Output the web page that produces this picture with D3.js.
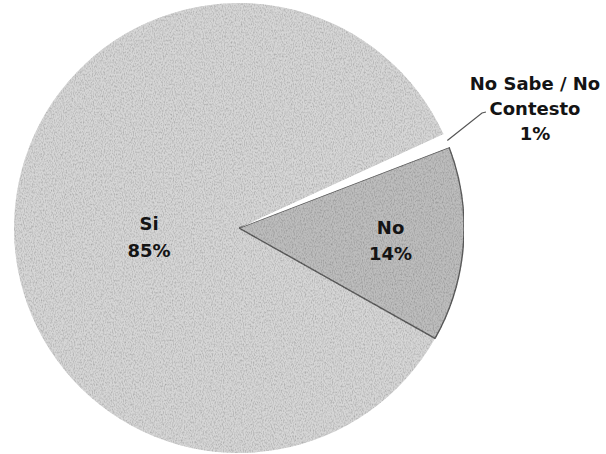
<!DOCTYPE html>
<html>
<head>
<meta charset="utf-8">
<script src="https://cdn.jsdelivr.net/npm/d3@7"></script>
<style>
  html, body { margin: 0; padding: 0; background: #ffffff; }
  svg { display: block; }
  text { font-family: "DejaVu Sans", Verdana, sans-serif; font-weight: bold; fill: #141414; }
</style>
</head>
<body>
<svg id="chart" width="606" height="454"></svg>
<script>
// ---- data ----
const categories = ["No Sabe / No Contesto", "No", "Si"];
const values = [1, 14, 85];
const percentLabels = ["1%", "14%", "85%"];
const labelLines = [["No Sabe / No", "Contesto"], ["No"], ["Si"]];
const fills = ["#ffffff", "#bdbdbd", "#d6d6d6"];

// ---- layout ----
const W = 606, H = 454;
const cx = 239, cy = 228, R = 225;
const startDeg = 65.4;

const svg = d3.select("#chart");

// subtle scan-like texture
const defs = svg.append("defs");
const f = defs.append("filter").attr("id", "grain").attr("x", 0).attr("y", 0).attr("width", 1).attr("height", 1);
f.append("feTurbulence").attr("type", "fractalNoise").attr("baseFrequency", "0.9 0.5").attr("numOctaves", 2).attr("seed", 3).attr("result", "noise");
f.append("feColorMatrix").attr("in", "noise").attr("type", "matrix")
  .attr("values", "0 0 0 0 0  0 0 0 0 0  0 0 0 0 0  0 0 0 -0.8 0.48").attr("result", "alphaNoise");
f.append("feComposite").attr("in", "alphaNoise").attr("in2", "SourceGraphic").attr("operator", "in").attr("result", "grainMask");
f.append("feMerge").selectAll("feMergeNode").data(["SourceGraphic", "grainMask"]).join("feMergeNode").attr("in", d => d);

const pie = d3.pie().sort(null).value(d => d)
  .startAngle(startDeg * Math.PI / 180)
  .endAngle(startDeg * Math.PI / 180 + 2 * Math.PI);
const arcs = pie(values);
const arc = d3.arc().innerRadius(0).outerRadius(R);

const g = svg.append("g").attr("transform", `translate(${cx},${cy})`);

// Si slice (index 2), then No slice, then NS slice
const order = [2, 1, 0];
g.selectAll("path.slice")
  .data(order.map(i => arcs[i]))
  .join("path")
  .attr("class", "slice")
  .attr("d", arc)
  .attr("fill", d => fills[d.index])
  .attr("stroke", d => d.index === 1 ? "#5e5e5e" : "none")
  .attr("stroke-width", d => d.index === 1 ? 1.4 : 0)
  .attr("filter", d => d.index === 0 ? null : "url(#grain)");

// ---- labels ----
function drawLabel(x, firstBaseline, lines, lineH) {
  const t = svg.append("text").attr("text-anchor", "middle").attr("font-size", 18);
  lines.forEach((s, k) => {
    t.append("tspan").attr("x", x).attr("y", firstBaseline + k * lineH).text(s);
  });
}

// Si and No labels placed near their arc centroids
const siArc = d3.arc().innerRadius(90).outerRadius(90);
const noArc = d3.arc().innerRadius(152).outerRadius(152);
const siC = siArc.centroid(arcs[2]);
const noC = noArc.centroid(arcs[1]);
drawLabel(cx + siC[0], cy + siC[1] + 6, [...labelLines[2], percentLabels[2]], 27);
drawLabel(cx + noC[0], cy + noC[1] - 5, [...labelLines[1], percentLabels[1]], 26);

// No Sabe / No Contesto: outside label with leader line
const nsMid = (arcs[0].startAngle + arcs[0].endAngle) / 2;
const p0 = [cx + Math.sin(nsMid) * (R + 1), cy - Math.cos(nsMid) * (R + 1)];
svg.append("polyline")
  .attr("points", [p0, [482, 113], [486, 112]].map(p => p.join(",")).join(" "))
  .attr("fill", "none").attr("stroke", "#555").attr("stroke-width", 1.2);
drawLabel(535, 90, [...labelLines[0], percentLabels[0]], 25);
</script>
</body>
</html>
